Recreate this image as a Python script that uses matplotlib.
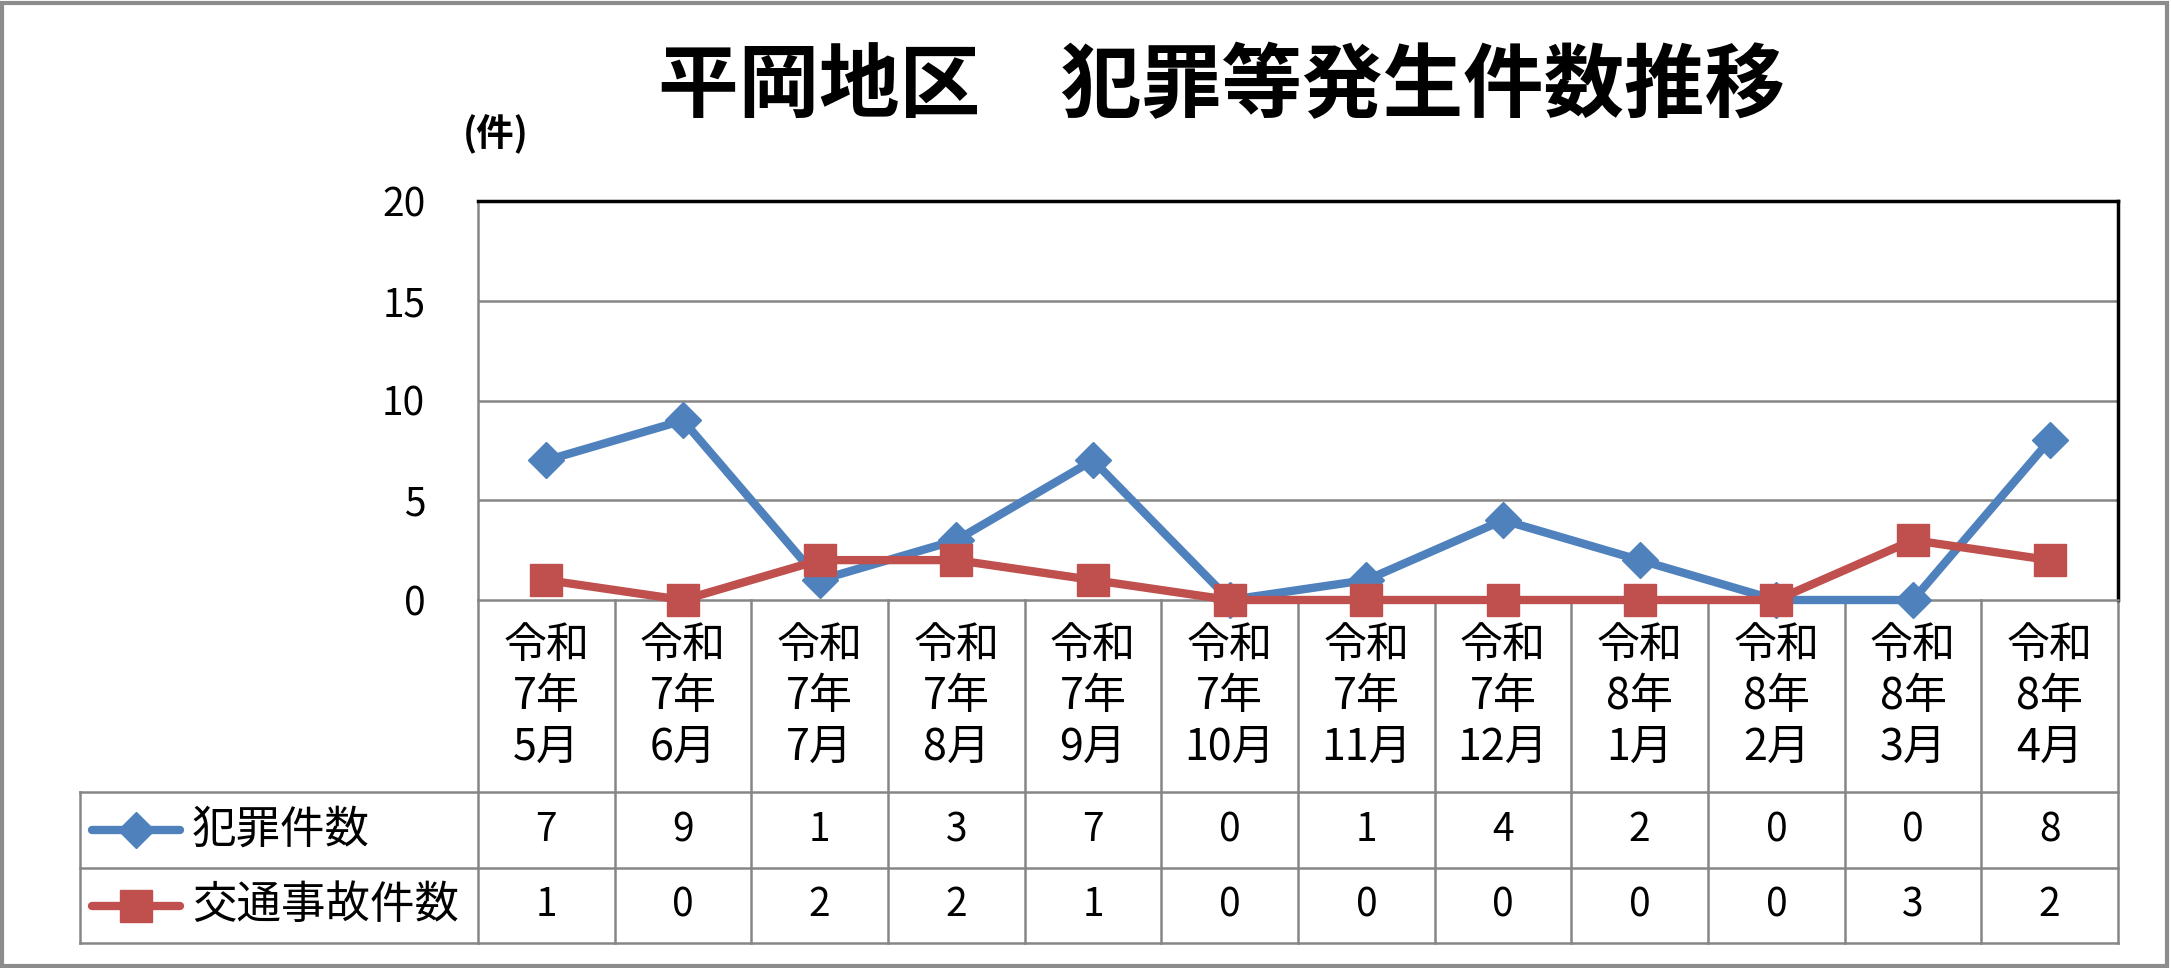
import matplotlib
matplotlib.use('Agg')
import matplotlib.pyplot as plt
from matplotlib.patches import Rectangle

plt.rcParams['font.family'] = ['Noto Sans CJK JP', 'DejaVu Sans']

# data
title = '平岡地区　犯罪等発生件数推移'
unit_label = '(件)'
months = ['令和\n7年\n5月', '令和\n7年\n6月', '令和\n7年\n7月', '令和\n7年\n8月',
          '令和\n7年\n9月', '令和\n7年\n10月', '令和\n7年\n11月', '令和\n7年\n12月',
          '令和\n8年\n1月', '令和\n8年\n2月', '令和\n8年\n3月', '令和\n8年\n4月']
crime = [7, 9, 1, 3, 7, 0, 1, 4, 2, 0, 0, 8]
traffic = [1, 0, 2, 2, 1, 0, 0, 0, 0, 0, 3, 2]
series_names = ['犯罪件数', '交通事故件数']
yticks = [0, 5, 10, 15, 20]

BLUE = '#4F81BD'
RED = '#C0504D'
GRAY = '#868686'

W, H = 2171, 968
fig = plt.figure(figsize=(W / 100, H / 100), dpi=100)

# layout in pixels
L, R, T, B0 = 478, 2118, 201, 600
TL, ROW0, ROW1, ROW2 = 80, 792, 868, 943
n = len(months)
colw = (R - L) / n

def px2x(px):
    return -0.5 + (px - L) / colw

# table below the plot
tab = fig.add_axes([TL / W, 1 - ROW2 / H, (R - TL) / W, (ROW2 - B0) / H])
tab.set_xlim(px2x(TL), n - 0.5)
tab.set_ylim(ROW2, B0)
tab.axis('off')
tab.patch.set_visible(False)

for i in range(n + 1):
    tab.plot([i - 0.5, i - 0.5], [B0, ROW2], color=GRAY, lw=1.8, clip_on=False)
for yy in [ROW0, ROW1, ROW2]:
    tab.plot([px2x(TL), n - 0.5], [yy, yy], color=GRAY, lw=1.8, clip_on=False)
tab.plot([px2x(TL), px2x(TL)], [ROW0, ROW2], color=GRAY, lw=1.8, clip_on=False)

for i, m in enumerate(months):
    tab.text(i, (B0 + ROW0) / 2 + 1, m, ha='center', va='center', fontsize=31,
             linespacing=1.2)

rows = [(crime, BLUE, 'D', 18, (ROW0 + ROW1) / 2),
        (traffic, RED, 's', 23, (ROW1 + ROW2) / 2)]
for (vals, c, mk, ms, yc), name in zip(rows, series_names):
    tab.plot([px2x(92), px2x(180)], [yc, yc], color=c, lw=6, solid_capstyle='round')
    tab.plot([px2x(136)], [yc], marker=mk, ms=ms, color=c, mec=c)
    tab.text(px2x(192), yc, name, ha='left', va='center', fontsize=32)
    for i, v in enumerate(vals):
        tab.text(i, yc, str(v), ha='center', va='center', fontsize=28)

# main plot
ax = fig.add_axes([L / W, 1 - B0 / H, (R - L) / W, (B0 - T) / H])
ax.set_zorder(3)
ax.patch.set_visible(False)
x = list(range(n))
ax.plot(x, crime, color=BLUE, lw=6, marker='D', ms=18, clip_on=False, zorder=4)
ax.plot(x, traffic, color=RED, lw=6, marker='s', ms=23, clip_on=False, zorder=5)
ax.set_xlim(-0.5, n - 0.5)
ax.set_ylim(0, 20)
ax.set_yticks(yticks)
ax.set_xticks([])
ax.tick_params(axis='y', length=0, labelsize=28, pad=38)
for t in yticks[1:-1]:
    ax.axhline(t, color=GRAY, lw=1.8, zorder=1)
ax.spines['top'].set_color('black')
ax.spines['top'].set_linewidth(2.5)
ax.spines['right'].set_color('black')
ax.spines['right'].set_linewidth(2.5)
ax.spines['left'].set_color(GRAY)
ax.spines['left'].set_linewidth(1.8)
ax.spines['bottom'].set_color(GRAY)
ax.spines['bottom'].set_linewidth(1.8)

fig.text(496 / W, 1 - 134 / H, unit_label, ha='center', va='center',
         fontsize=27, fontweight='bold')
fig.text(1222 / W, 1 - 88 / H, title, ha='center', va='center',
         fontsize=58, fontweight='bold')

# outer frame
fig.patches.append(Rectangle((0.001, 0.002), 0.997, 0.995, transform=fig.transFigure,
                             fill=False, edgecolor='#8c8c8c', lw=3))

fig.savefig('out.png', dpi=100)
